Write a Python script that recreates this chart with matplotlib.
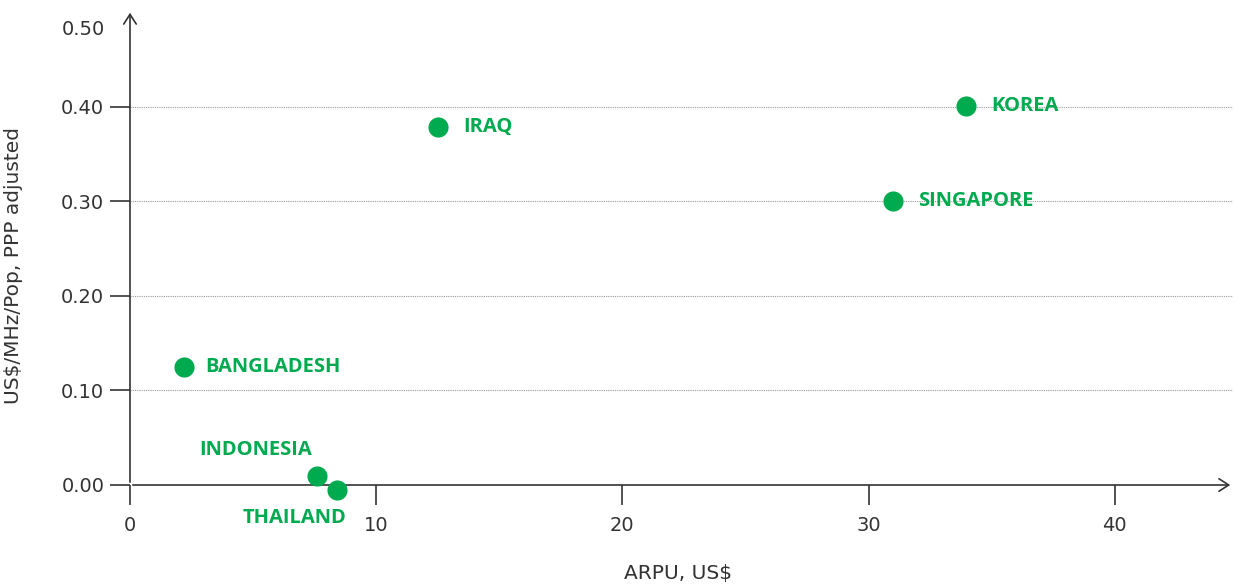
import matplotlib
matplotlib.use("Agg")
import matplotlib.pyplot as plt

countries = ["BANGLADESH", "INDONESIA", "THAILAND", "IRAQ", "SINGAPORE", "KOREA"]
arpu = [2.2, 7.6, 8.4, 12.5, 31.0, 33.95]
price = [0.125, 0.0095, -0.005, 0.379, 0.300, 0.401]
xticks = [0, 10, 20, 30, 40]
yticks = [0.0, 0.1, 0.2, 0.3, 0.4]
ytick_labels = ["0.00", "0.10", "0.20", "0.30", "0.40"]
top_label = "0.50"

GREEN = "#00AA4F"
TXT = "#333333"
plt.rcParams['font.family'] = ['DejaVu Sans']

fig = plt.figure(figsize=(12.36, 5.87), dpi=100)
W, H = 1236, 587
ax = fig.add_axes([130 / W, (587 - 485) / H, (1233 - 130) / W, (485 - 10) / H])
ax.set_xlim(0, 44.8)
ax.set_ylim(0, 0.5026)

for s in ax.spines.values():
    s.set_visible(False)

# axis lines with arrows
ax.annotate("", xy=(0, 1), xytext=(0, 0), xycoords="axes fraction",
            arrowprops=dict(arrowstyle="->,head_length=0.7,head_width=0.45", color=TXT, lw=1.2))
ax.annotate("", xy=(1, 0), xytext=(0, 0), xycoords="axes fraction",
            arrowprops=dict(arrowstyle="->,head_length=0.7,head_width=0.45", color=TXT, lw=1.2))

ax.set_xticks(xticks)
ax.set_xticklabels([str(t) for t in xticks])
ax.set_yticks(yticks)
ax.set_yticklabels(ytick_labels)
ax.tick_params(axis="both", length=14.5, width=1.2, color=TXT, labelcolor=TXT,
               labelsize=14)
ax.tick_params(axis="x", pad=8)
ax.tick_params(axis="y", pad=4)

# 0.50 label near the arrow top (no tick)
ax.text(-0.0226, 0.4815, top_label, transform=ax.get_yaxis_transform(),
        ha="right", va="center", fontsize=14, color=TXT)

for y in yticks[1:]:
    ax.axhline(y, color="#999999", lw=0.8, ls=(0, (1, 1)), zorder=0)

ax.scatter(arpu, price, s=210, color=GREEN, zorder=3, clip_on=False, linewidths=0)

offsets = {
    "BANGLADESH": (15, 0, "left", "center"),
    "INDONESIA": (-4, 19, "right", "center"),
    "THAILAND": (7, -20, "right", "center"),
    "IRAQ": (18, 0, "left", "center"),
    "SINGAPORE": (18, 0, "left", "center"),
    "KOREA": (18, 0, "left", "center"),
}
for c, x, y in zip(countries, arpu, price):
    dx, dy, ha, va = offsets[c]
    ax.annotate(c, (x, y), xytext=(dx, dy), textcoords="offset points",
                ha=ha, va=va, color=GREEN, fontsize=14.5, fontweight="bold",
                family="Open Sans", annotation_clip=False)

ax.set_xlabel("ARPU, US$", fontsize=14.5, color=TXT)
ax.xaxis.set_label_coords(0.497, -0.166)
ax.set_ylabel("US$/MHz/Pop, PPP adjusted", fontsize=14.5, color=TXT)
ax.yaxis.set_label_coords(-0.097, 0.463)

fig.savefig("out.png", dpi=100)
